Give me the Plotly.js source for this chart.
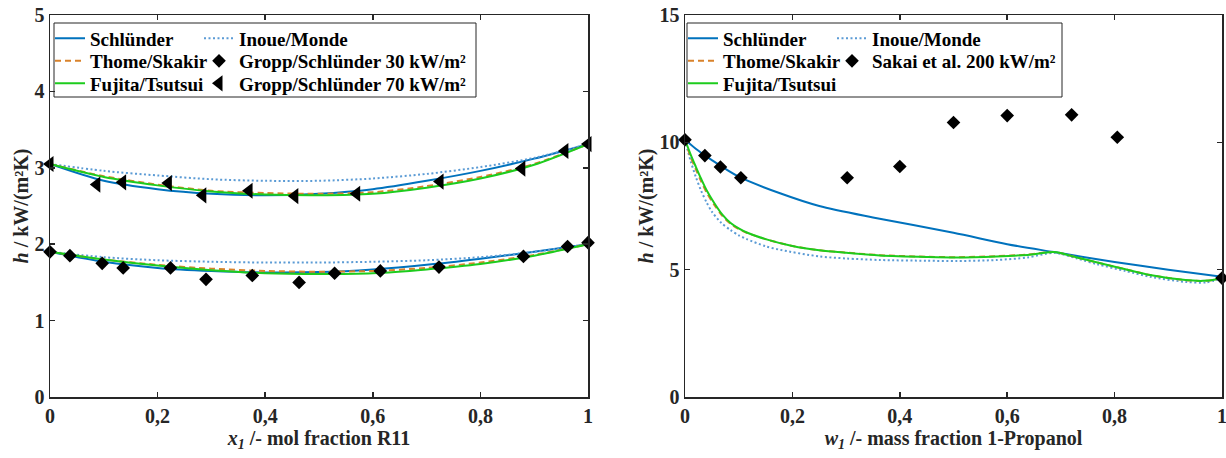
<!DOCTYPE html>
<html><head><meta charset="utf-8">
<script src="https://cdn.plot.ly/plotly-3.0.1.min.js"></script>
<style>html,body{margin:0;padding:0;background:#fff}#chart{width:1226px;height:458px}</style>
</head><body><div id="chart"></div>
<script>
// ---------- Left panel: R11 mixture ----------
const leftX = [0, 0.1, 0.2, 0.3, 0.4, 0.5, 0.6, 0.7, 0.8, 0.9, 1.0];
const leftSchlunder70 = [3.05, 2.83, 2.72, 2.66, 2.64, 2.66, 2.72, 2.83, 2.96, 3.12, 3.31];
const leftInoue70     = [3.05, 2.96, 2.90, 2.85, 2.83, 2.83, 2.86, 2.92, 3.01, 3.13, 3.31];
const leftThome70     = [3.05, 2.89, 2.78, 2.70, 2.67, 2.66, 2.68, 2.76, 2.88, 3.05, 3.31];
const leftFujita70    = [3.05, 2.88, 2.77, 2.69, 2.65, 2.64, 2.66, 2.74, 2.86, 3.04, 3.31];
const leftSchlunder30 = [1.90, 1.77, 1.69, 1.65, 1.63, 1.635, 1.67, 1.73, 1.81, 1.90, 2.00];
const leftInoue30     = [1.90, 1.83, 1.79, 1.77, 1.76, 1.76, 1.77, 1.79, 1.83, 1.90, 2.00];
const leftThome30     = [1.90, 1.80, 1.73, 1.68, 1.65, 1.64, 1.65, 1.69, 1.76, 1.86, 2.00];
const leftFujita30    = [1.90, 1.80, 1.72, 1.66, 1.62, 1.61, 1.62, 1.67, 1.74, 1.85, 2.00];
const gropp30X = [0, 0.037, 0.097, 0.136, 0.224, 0.29, 0.376, 0.463, 0.529, 0.614, 0.723, 0.880, 0.962, 1.0];
const gropp30Y = [1.90, 1.85, 1.75, 1.69, 1.69, 1.54, 1.59, 1.50, 1.62, 1.65, 1.70, 1.84, 1.97, 2.02];
const gropp70X = [0, 0.087, 0.135, 0.22, 0.284, 0.37, 0.455, 0.57, 0.725, 0.877, 0.957, 1.0];
const gropp70Y = [3.05, 2.78, 2.81, 2.80, 2.64, 2.70, 2.63, 2.66, 2.82, 2.99, 3.22, 3.31];

// ---------- Right panel: 1-Propanol mixture ----------
const rightSchlX = [0, 0.02, 0.05, 0.1, 0.177, 0.25, 0.35, 0.5, 0.6, 0.687, 0.8, 0.9, 1.0];
const rightSchlY = [10.1, 9.75, 9.3, 8.65, 8.0, 7.5, 7.05, 6.45, 6.0, 5.69, 5.3, 5.0, 4.72];
const rightFujX = [0, 0.01, 0.02, 0.03, 0.04, 0.055, 0.07, 0.085, 0.1, 0.115, 0.15, 0.2, 0.25, 0.3, 0.363, 0.45, 0.507, 0.58, 0.638, 0.687, 0.73, 0.768, 0.82, 0.866, 0.932, 0.964, 0.985, 1.0];
const rightFujY = [10.1, 9.55, 9.05, 8.57, 8.13, 7.6, 7.15, 6.83, 6.62, 6.46, 6.2, 5.93, 5.76, 5.66, 5.56, 5.5, 5.48, 5.52, 5.58, 5.69, 5.48, 5.28, 5.02, 4.79, 4.59, 4.56, 4.6, 4.7];
const rightThomeY = [10.1, 9.45, 8.95, 8.47, 8.04, 7.53, 7.1, 6.8, 6.6, 6.45, 6.2, 5.93, 5.76, 5.67, 5.57, 5.51, 5.49, 5.53, 5.59, 5.69, 5.48, 5.28, 5.02, 4.79, 4.59, 4.56, 4.6, 4.7];
const rightInoueX = [0, 0.01, 0.02, 0.03, 0.04, 0.05, 0.067, 0.085, 0.1, 0.115, 0.15, 0.177, 0.25, 0.3, 0.363, 0.45, 0.507, 0.58, 0.638, 0.687, 0.73, 0.768, 0.82, 0.866, 0.932, 0.97, 1.0];
const rightInoueY = [10.1, 9.3, 8.65, 8.1, 7.65, 7.28, 6.85, 6.55, 6.35, 6.2, 5.92, 5.78, 5.52, 5.44, 5.38, 5.35, 5.34, 5.38, 5.48, 5.66, 5.44, 5.21, 4.95, 4.72, 4.52, 4.5, 4.66];
const sakaiX = [0, 0.037, 0.066, 0.104, 0.302, 0.40, 0.50, 0.60, 0.72, 0.805, 1.0];
const sakaiY = [10.1, 9.48, 9.03, 8.61, 8.61, 9.05, 10.78, 11.05, 11.08, 10.2, 4.67];

// ---------- Ticks ----------
const xTickVals = [0, 0.2, 0.4, 0.6, 0.8, 1];
const xTickText = ['0', '0,2', '0,4', '0,6', '0,8', '1'];
const leftYTicks = [0, 1, 2, 3, 4, 5];
const rightYTicks = [0, 5, 10, 15];

// ---------- Styling ----------
const W = 1226, H = 458, PL = 50, PR = 1222, PT = 15, PB = 397;
const px = v => (v - PL) / (PR - PL);
const py = v => (PB - v) / (PB - PT);
const FONT = '"Liberation Serif", "Times New Roman", serif';
const C_BLUE = '#0072BD', C_DOT = '#5B9BD5', C_ORANGE = '#D9822B', C_GREEN = '#1DCC1D';

function line(x, y, color, dash, width, name, legend, show, xa, ya) {
  return {x: x, y: y, type: 'scatter', mode: 'lines', name: name, legend: legend, showlegend: show,
    xaxis: xa, yaxis: ya, line: {color: color, dash: dash, width: width, shape: 'spline', smoothing: 0.8},
    hoverinfo: 'skip'};
}
function marks(x, y, symbol, size, name, legend, xa, ya) {
  return {x: x, y: y, type: 'scatter', mode: 'markers', name: name, legend: legend, showlegend: true,
    xaxis: xa, yaxis: ya, cliponaxis: false,
    marker: {symbol: symbol, size: size, color: '#000', line: {width: 0}}, hoverinfo: 'skip'};
}

const DOT = '2px,2.5px', DASH = '6px,4px';
const LW = 2;
const traces = [
  line(leftX, leftSchlunder70, C_BLUE, 'solid', LW, 'Schlünder', 'legend', true, 'x', 'y'),
  line(leftX, leftSchlunder30, C_BLUE, 'solid', LW, 'Schlünder', 'legend', false, 'x', 'y'),
  line(leftX, leftInoue70, C_DOT, DOT, 2, 'Inoue/Monde', 'legend2', true, 'x', 'y'),
  line(leftX, leftInoue30, C_DOT, DOT, 2, 'Inoue/Monde', 'legend2', false, 'x', 'y'),
  line(leftX, leftThome70, C_ORANGE, DASH, LW, 'Thome/Skakir', 'legend3', true, 'x', 'y'),
  line(leftX, leftThome30, C_ORANGE, DASH, LW, 'Thome/Skakir', 'legend3', false, 'x', 'y'),
  line(leftX, leftFujita70, C_GREEN, 'solid', LW, 'Fujita/Tsutsui', 'legend5', true, 'x', 'y'),
  line(leftX, leftFujita30, C_GREEN, 'solid', LW, 'Fujita/Tsutsui', 'legend5', false, 'x', 'y'),
  marks(gropp30X, gropp30Y, 'diamond', 10.5, 'Gropp/Schlünder 30 kW/m²', 'legend4', 'x', 'y'),
  marks(gropp70X, gropp70Y, 'triangle-left', 14, 'Gropp/Schlünder 70 kW/m²', 'legend6', 'x', 'y'),

  line(rightSchlX, rightSchlY, C_BLUE, 'solid', LW, 'Schlünder', 'legend7', true, 'x2', 'y2'),
  line(rightInoueX, rightInoueY, C_DOT, DOT, 2, 'Inoue/Monde', 'legend8', true, 'x2', 'y2'),
  line(rightFujX, rightThomeY, C_ORANGE, DASH, LW, 'Thome/Skakir', 'legend9', true, 'x2', 'y2'),
  line(rightFujX, rightFujY, C_GREEN, 'solid', LW, 'Fujita/Tsutsui', 'legend11', true, 'x2', 'y2'),
  marks(sakaiX, sakaiY, 'diamond', 10.5, 'Sakai et al. 200 kW/m²', 'legend10', 'x2', 'y2')
];

function leg(xp, yp) {
  return {x: px(xp), y: py(yp), xref: 'paper', yref: 'paper', xanchor: 'left', yanchor: 'middle',
    bgcolor: 'rgba(0,0,0,0)', borderwidth: 0, itemclick: false,
    font: {family: FONT, size: 19, color: '#000', weight: 'bold'}};
}
const ROW = [38.5, 61, 83.5];
const axFont = {family: FONT, size: 20, color: '#262626', weight: 'bold'};
const base = {showline: true, linecolor: '#262626', linewidth: 1.5, mirror: 'ticks', ticks: 'inside',
  ticklen: 5, tickwidth: 1.5, tickcolor: '#262626', showgrid: false, zeroline: false,
  tickfont: axFont, automargin: false, fixedrange: true, ticklabeloverflow: 'allow'};

const layout = {
  width: W, height: H, margin: {l: PL, r: W - PR, t: PT, b: H - PB, autoexpand: false},
  paper_bgcolor: '#fff', plot_bgcolor: '#fff', separators: ',.',
  xaxis: Object.assign({}, base, {domain: [0, px(588)], anchor: 'y', range: [0, 1],
    tickvals: xTickVals, ticktext: xTickText,
    title: {text: '<i>x<sub>1</sub></i> /- mol fraction R11', font: axFont, standoff: 3}}),
  yaxis: Object.assign({}, base, {domain: [0, 1], anchor: 'x', range: [0, 5], tickvals: leftYTicks,
    title: {text: '<i>h</i> / kW/(m²K)', font: axFont, standoff: 0}}),
  xaxis2: Object.assign({}, base, {domain: [px(685), 1], anchor: 'y2', range: [0, 1],
    tickvals: xTickVals, ticktext: xTickText,
    title: {text: '<i>w<sub>1</sub></i> /- mass fraction 1-Propanol', font: axFont, standoff: 3}}),
  yaxis2: Object.assign({}, base, {domain: [0, 1], anchor: 'x2', range: [0, 15], tickvals: rightYTicks,
    title: {text: '<i>h</i> / kW/(m²K)', font: axFont, standoff: 0}}),
  legend: leg(50, ROW[0]), legend2: leg(199, ROW[0]),
  legend3: leg(50, ROW[1]), legend4: leg(199, ROW[1]),
  legend5: leg(50, ROW[2]), legend6: leg(199, ROW[2]),
  legend7: leg(683, ROW[0]), legend8: leg(832, ROW[0]),
  legend9: leg(683, ROW[1]), legend10: leg(832, ROW[1]),
  legend11: leg(683, ROW[2]),
  shapes: [
    {type: 'rect', xref: 'paper', yref: 'paper', x0: px(54), x1: px(476), y0: py(97), y1: py(23),
      line: {color: '#262626', width: 1}, fillcolor: '#fff', layer: 'below'},
    {type: 'rect', xref: 'paper', yref: 'paper', x0: px(687), x1: px(1062), y0: py(97), y1: py(23),
      line: {color: '#262626', width: 1}, fillcolor: '#fff', layer: 'below'}
  ],
  showlegend: true, hovermode: false
};

Plotly.newPlot('chart', traces, layout, {staticPlot: true, displayModeBar: false});
</script>
</body></html>
